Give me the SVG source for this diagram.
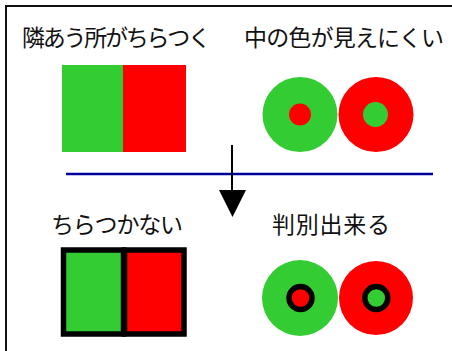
<svg xmlns="http://www.w3.org/2000/svg" width="452" height="351" viewBox="0 0 452 351">
<style>
.t{font-family:"Noto Sans CJK JP","Noto Sans CJK SC",sans-serif;font-size:23px;fill:#111}
.g{fill:#33cc33}
.r{fill:#ff0000}
.ring{stroke:#000;stroke-width:5.5}
</style>
<rect x="6" y="6" width="460" height="360" fill="#fff" stroke="#111" stroke-width="2"/>
<g id="label-flicker">
<text class="t" x="22" y="46" textLength="189" lengthAdjust="spacing">隣あう所がちらつく</text>
</g>
<g id="label-hard-to-see">
<text class="t" x="244" y="46" textLength="200" lengthAdjust="spacing">中の色が見えにくい</text>
</g>
<g id="rects-top">
<rect class="g" x="62" y="65" width="61" height="87"/>
<rect class="r" x="123" y="65" width="63" height="87"/>
</g>
<g id="circles-top">
<circle class="g" cx="300" cy="114.5" r="37.5"/>
<circle class="r" cx="300" cy="114.5" r="11"/>
<circle class="r" cx="376" cy="114.5" r="37.5"/>
<circle class="g" cx="375.5" cy="114.5" r="12.5"/>
</g>
<g id="connectors">
<line x1="66" y1="174" x2="433" y2="174" stroke="#0000a0" stroke-width="2.5"/>
<line x1="232" y1="145" x2="232" y2="192" stroke="#000" stroke-width="2"/>
<polygon points="219,190 246,190 232.5,217" fill="#000"/>
</g>
<g id="label-no-flicker">
<text class="t" x="51" y="232.5" textLength="132" lengthAdjust="spacing">ちらつかない</text>
</g>
<g id="label-distinguishable">
<text class="t" x="272" y="232.5" textLength="118" lengthAdjust="spacing">判別出来る</text>
</g>
<g id="rects-bottom">
<rect class="g" x="63.5" y="250" width="60" height="84" stroke="#000" stroke-width="5.5"/>
<rect class="r" x="124.5" y="250" width="59.5" height="84" stroke="#000" stroke-width="5.5"/>
</g>
<g id="circles-bottom">
<circle class="g" cx="300" cy="298" r="38"/>
<circle class="r ring" cx="300.5" cy="298" r="11.5"/>
<circle class="r" cx="376" cy="298" r="37"/>
<circle class="g ring" cx="376.3" cy="298" r="11.5"/>
</g>
</svg>
